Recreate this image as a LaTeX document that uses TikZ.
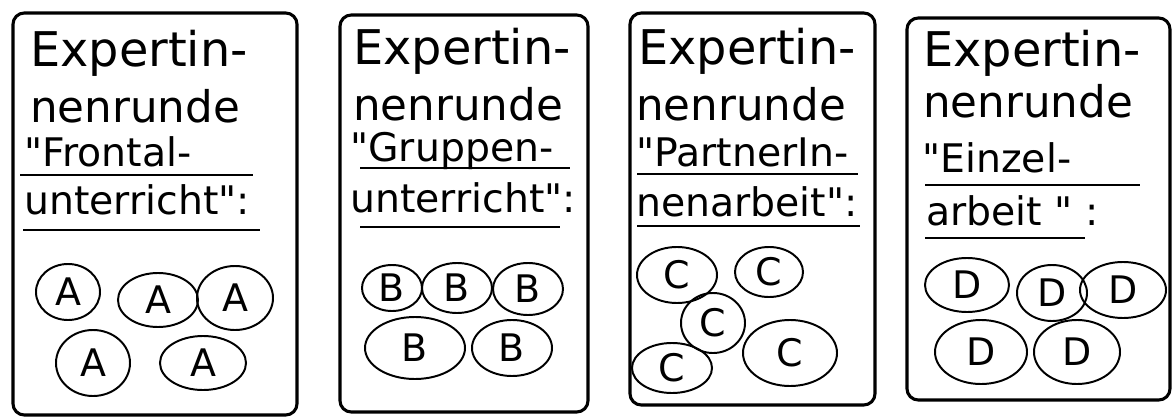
\documentclass[tikz,border=0pt]{standalone}
\usepackage{fontspec}
\setmainfont{DejaVu Sans}[Ligatures=TeXOff]
\usetikzlibrary{shapes.geometric}
\begin{document}
\begin{tikzpicture}[x=0.025cm,y=-0.025cm,
  card/.style={line width=2.2pt,rounded corners=8pt},
  uline/.style={line width=1.8pt},
  firstline/.style={anchor=base west,inner sep=0pt,font=\fontsize{34}{34}\selectfont},
  secondline/.style={anchor=base west,inner sep=0pt,font=\fontsize{31}{31}\selectfont},
  wordline/.style={anchor=base west,inner sep=0pt,font=\fontsize{28}{28}\selectfont},
  blob/.style 2 args={draw,ellipse,line width=1.4pt,inner sep=0pt,
    minimum width=#1*1.4226pt,minimum height=#2*1.4226pt,
    font=\fontsize{27}{27}\selectfont}]
  \useasboundingbox (0,0) rectangle (1176,420);
  % Frontalunterricht
  \draw[card] (13,13) rectangle (297,415);
  \node[firstline] (t11) at (30,67) {Expertin-};
  \node[secondline] (t12) at (30,122) {nenrunde};
  \node[wordline] (t13) at (24,166) {"Frontal-};
  \node[wordline] (t14) at (24,214) {unterricht":};
  \draw[uline] (20,175) -- (253,175);
  \draw[uline] (23,230) -- (260,230);
  \node[blob={32}{28}] (a1) at (68,292) {A};
  \node[blob={40}{27}] (a2) at (158,300) {A};
  \node[blob={38}{32}] (a3) at (235,298) {A};
  \node[blob={37}{33}] (a4) at (93,363) {A};
  \node[blob={43}{27}] (a5) at (203,363) {A};
  % Gruppenunterricht
  \draw[card] (340,15) rectangle (588,412);
  \node[firstline] (t21) at (353,65) {Expertin-};
  \node[secondline] (t22) at (353,120) {nenrunde};
  \node[wordline] (t23) at (350,161) {"Gruppen-};
  \node[wordline] (t24) at (350,212) {unterricht":};
  \draw[uline] (360,168) -- (570,168);
  \draw[uline] (360,227) -- (560,227);
  \node[blob={30}{23}] (b1) at (392,288) {B};
  \node[blob={35}{25}] (b2) at (457,288) {B};
  \node[blob={35}{26}] (b3) at (528,289) {B};
  \node[blob={50}{31}] (b4) at (415,348) {B};
  \node[blob={40}{28}] (b5) at (512,348) {B};
  % PartnerInnenarbeit
  \draw[card] (630,13) rectangle (875,405);
  \node[firstline] (t31) at (638,65) {Expertin-};
  \node[secondline] (t32) at (636,120) {nenrunde};
  \node[wordline] (t33) at (636,166) {"PartnerIn-};
  \node[wordline] (t34) at (636,216) {nenarbeit":};
  \draw[uline] (637,174) -- (858,174);
  \draw[uline] (637,226) -- (860,226);
  \node[blob={40}{28}] (c1) at (677,275) {C};
  \node[blob={34}{25}] (c2) at (769,272) {C};
  \node[blob={32}{30}] (c3) at (713,323) {C};
  \node[blob={40}{25}] (c4) at (672,368) {C};
  \node[blob={47}{33}] (c5) at (790,353) {C};
  % Einzelarbeit
  \draw[card] (907,18) rectangle (1170,400);
  \node[firstline] (t41) at (923,67) {Expertin-};
  \node[secondline] (t42) at (923,117) {nenrunde};
  \node[wordline] (t43) at (922,172) {"Einzel-};
  \node[wordline] (t44) at (926,225) {arbeit " :};
  \draw[uline] (925,185) -- (1140,185);
  \draw[uline] (925,238) -- (1085,238);
  \node[blob={42}{27}] (d1) at (967,285) {D};
  \node[blob={35}{28}] (d2) at (1052,293) {D};
  \node[blob={43}{28}] (d3) at (1123,290) {D};
  \node[blob={46}{32}] (d4) at (981,352) {D};
  \node[blob={43}{32}] (d5) at (1077,352) {D};
\end{tikzpicture}
\end{document}
